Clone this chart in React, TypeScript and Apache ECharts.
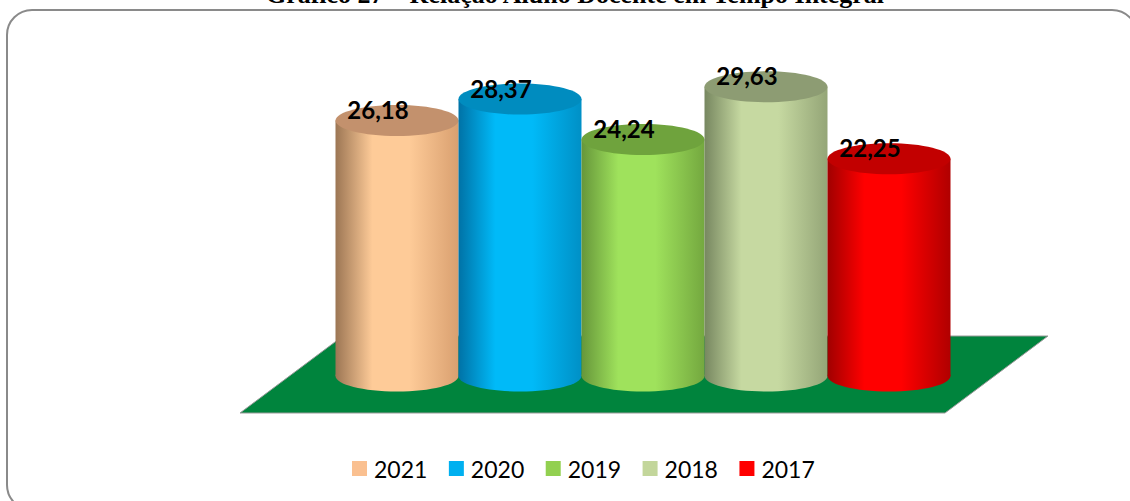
import React, { useEffect, useRef } from "react";
import * as echarts from "echarts";

const titleText = "Gráfico 27 – Relação Aluno Docente em Tempo Integral";
const years = ["2021", "2020", "2019", "2018", "2017"];
const values = [26.18, 28.37, 24.24, 29.63, 22.25];
const legendColors = ["#FAC090", "#00B0F0", "#92D050", "#C3D69B", "#FF0000"];
const edgeLeft = ["#9c7654", "#0072a6", "#66963a", "#778760", "#a00000"];
const edgeCenter = ["#fecb98", "#00baf8", "#9fe25c", "#c6d9a1", "#ff0000"];
const edgeRight = ["#d9a070", "#0090c6", "#74a83f", "#94a577", "#b00000"];
const topColors = ["#c3916d", "#008cbf", "#6fa33d", "#8d9c73", "#c20000"];

function fmt(v: number) {
  return v.toFixed(2).replace(".", ",");
}

export default function App() {
  const ref = useRef<HTMLDivElement>(null);
  useEffect(() => {
    if (!ref.current) return;
    const chart = echarts.init(ref.current, undefined, { renderer: "svg" });
    const series = years.map((y, i) => ({
      type: "custom",
      name: y,
      data: [[i, values[i]]],
      encode: { x: 0, y: 1 },
      itemStyle: { color: legendColors[i] },
      z: 5 + i,
      renderItem: (params: any, api: any) => {
        const cat = api.value(0);
        const v = api.value(1);
        const top = api.coord([cat, v]);
        const base = api.coord([cat, 0]);
        const band = api.size([1, 0])[0];
        const rx = band / 2;
        const ry = 15.5;
        const cx = top[0];
        const grad = new echarts.graphic.LinearGradient(0, 0, 1, 0, [
          { offset: 0, color: edgeLeft[i] },
          { offset: 0.3, color: edgeCenter[i] },
          { offset: 0.6, color: edgeCenter[i] },
          { offset: 1, color: edgeRight[i] },
        ]);
        return {
          type: "group",
          children: [
            { type: "ellipse", shape: { cx, cy: base[1], rx, ry }, style: { fill: grad } },
            {
              type: "rect",
              shape: { x: cx - rx, y: top[1], width: 2 * rx, height: base[1] - top[1] },
              style: { fill: grad },
            },
            { type: "ellipse", shape: { cx, cy: top[1], rx, ry }, style: { fill: topColors[i] } },
            {
              type: "text",
              x: cx - 19,
              y: top[1] - 11,
              style: {
                text: fmt(v),
                font: "bold 24px Lato",
                fill: "#000",
                align: "center",
                verticalAlign: "middle",
              },
            },
          ],
        };
      },
    }));
    chart.setOption({
      animation: false,
      backgroundColor: "#ffffff",
      grid: { left: 335.5, width: 615, top: 34.4, height: 341.6 },
      xAxis: { type: "category", data: years, show: false, boundaryGap: true },
      yAxis: { type: "value", min: 0, max: 35, show: false },
      legend: {
        data: years,
        left: 347,
        top: 452,
        icon: "rect",
        itemWidth: 15,
        itemHeight: 15,
        itemGap: 21.5,
        textStyle: { fontFamily: "Lato", fontSize: 23, color: "#000", padding: [0, 0, 0, 2] },
      },
      graphic: [
        {
          type: "rect",
          z: 0,
          shape: { x: 7, y: 10, width: 1130, height: 500, r: 25 },
          style: { fill: "none", stroke: "#8a8a8a", lineWidth: 2 },
        },
        {
          type: "polygon",
          z: 1,
          shape: { points: [[240, 413], [945, 413], [1048, 336], [343, 336]] },
          style: {
            fill: "#00843d",
            stroke: "#9a9a9a",
            lineWidth: 1,
          },
        },
        {
          type: "text",
          z: 100,
          x: 575,
          y: 7,
          style: {
            text: titleText,
            font: "bold 26px 'Liberation Serif'",
            fill: "#000",
            align: "center",
            verticalAlign: "bottom",
          },
        },
      ],
      series,
    });
    return () => chart.dispose();
  }, []);
  return (
    <div
      ref={ref}
      style={{ position: "fixed", left: 0, top: 0, width: 1130, height: 501 }}
    />
  );
}
